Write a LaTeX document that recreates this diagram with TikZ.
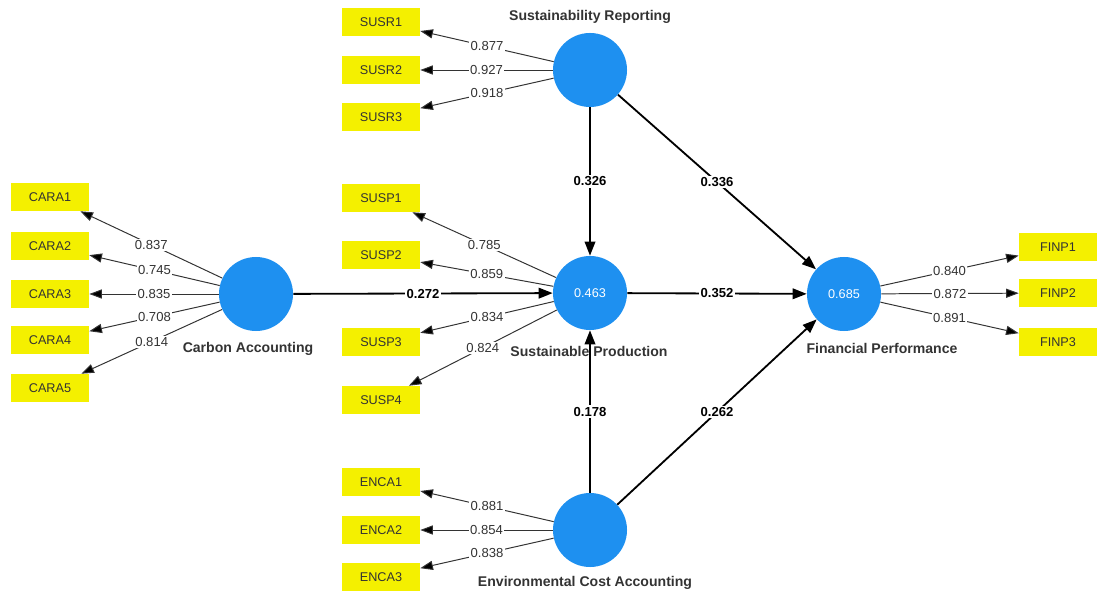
\documentclass[tikz,border=0pt]{standalone}
\usepackage{fontspec}
\setmainfont{Liberation Sans}
\usepackage{tikz}
\usetikzlibrary{arrows.meta}
\usepackage{xcolor}
\definecolor{lvblue}{HTML}{1E90F0}
\definecolor{mvyellow}{HTML}{F4F000}

\begin{document}
\begin{tikzpicture}[x=0.025cm,y=-0.025cm,
	latent/.style={circle,fill=lvblue,minimum size=1.85cm,inner sep=0pt,text=white,font=\fontsize{9}{10}\selectfont},
	manifest/.style={rectangle,fill=mvyellow,minimum width=1.95cm,minimum height=0.7cm,inner sep=0pt,text=black!80,font=\fontsize{9}{10}\selectfont},
	lvname/.style={text=black!80,font=\fontsize{10}{12}\selectfont\bfseries},
	loading/.style={draw=black!80,line width=0.7pt,-{Triangle[length=9pt,width=6.5pt,fill=black]}},
	structural/.style={draw=black,line width=1.3pt,-{Triangle[length=10pt,width=7.5pt]}},
	lbl/.style={fill=white,inner sep=1pt,text=black!80,font=\fontsize{9.3}{10}\selectfont},
	coef/.style={fill=white,inner sep=1pt,text=black,font=\fontsize{9.3}{10}\selectfont\bfseries}]
			%\draw[help lines] (0,0) grid[step=50] (1097,596);
			\useasboundingbox (0,0) rectangle (1097,596);
			
				\node[latent] (sr) at (590,70) {};
				\node[latent] (sp) at (590,293) {0.463};
				\node[latent] (ca) at (256,294) {};
				\node[latent] (fp) at (844,294) {0.685};
				\node[latent] (eca) at (590,530) {};
				
				\node[lvname] (srname) at (590,17) {Sustainability Reporting};
				\node[lvname] (caname) at (248,349) {Carbon Accounting};
				\node[lvname] (spname) at (589,351) {Sustainable Production};
				\node[lvname] (fpname) at (882,348) {Financial Performance};
				\node[lvname] (ecaname) at (585,583) {Environmental Cost Accounting};
				
				\node[manifest] (cara1) at (50,197) {CARA1};
				\node[manifest] (cara2) at (50,246) {CARA2};
				\node[manifest] (cara3) at (50,294) {CARA3};
				\node[manifest] (cara4) at (50,340) {CARA4};
				\node[manifest] (cara5) at (50,388) {CARA5};
				
				\node[manifest] (susr1) at (381,22) {SUSR1};
				\node[manifest] (susr2) at (381,70) {SUSR2};
				\node[manifest] (susr3) at (381,117) {SUSR3};
				
				\node[manifest] (susp1) at (381,198) {SUSP1};
				\node[manifest] (susp2) at (381,255) {SUSP2};
				\node[manifest] (susp3) at (381,342) {SUSP3};
				\node[manifest] (susp4) at (381,400) {SUSP4};
				
				\node[manifest] (enca1) at (381,482) {ENCA1};
				\node[manifest] (enca2) at (381,530) {ENCA2};
				\node[manifest] (enca3) at (381,577) {ENCA3};
				
				\node[manifest] (finp1) at (1058,247) {FINP1};
				\node[manifest] (finp2) at (1058,293) {FINP2};
				\node[manifest] (finp3) at (1058,342) {FINP3};
				
				\draw[loading] (ca) -- node[lbl] {0.837} (cara1);
				\draw[loading] (ca) -- node[lbl] {0.745} (cara2);
				\draw[loading] (ca) -- node[lbl] {0.835} (cara3);
				\draw[loading] (ca) -- node[lbl] {0.708} (cara4);
				\draw[loading] (ca) -- node[lbl] {0.814} (cara5);
				
				\draw[loading] (sr) -- node[lbl] {0.877} (susr1);
				\draw[loading] (sr) -- node[lbl] {0.927} (susr2);
				\draw[loading] (sr) -- node[lbl] {0.918} (susr3);
				
				\draw[loading] (sp) -- node[lbl] {0.785} (susp1);
				\draw[loading] (sp) -- node[lbl] {0.859} (susp2);
				\draw[loading] (sp) -- node[lbl] {0.834} (susp3);
				\draw[loading] (sp) -- node[lbl] {0.824} (susp4);
				
				\draw[loading] (eca) -- node[lbl] {0.881} (enca1);
				\draw[loading] (eca) -- node[lbl] {0.854} (enca2);
				\draw[loading] (eca) -- node[lbl] {0.838} (enca3);
				
				\draw[loading] (fp) -- node[lbl] {0.840} (finp1);
				\draw[loading] (fp) -- node[lbl] {0.872} (finp2);
				\draw[loading] (fp) -- node[lbl] {0.891} (finp3);
				
				\draw[structural] (sr) -- node[coef] {0.326} (sp);
				\draw[structural] (sr) -- node[coef] {0.336} (fp);
				\draw[structural] (ca) -- node[coef] {0.272} (sp);
				\draw[structural] (sp) -- node[coef] {0.352} (fp);
				\draw[structural] (eca) -- node[coef] {0.178} (sp);
				\draw[structural] (eca) -- node[coef] {0.262} (fp);
			
			\end{tikzpicture}
\end{document}
